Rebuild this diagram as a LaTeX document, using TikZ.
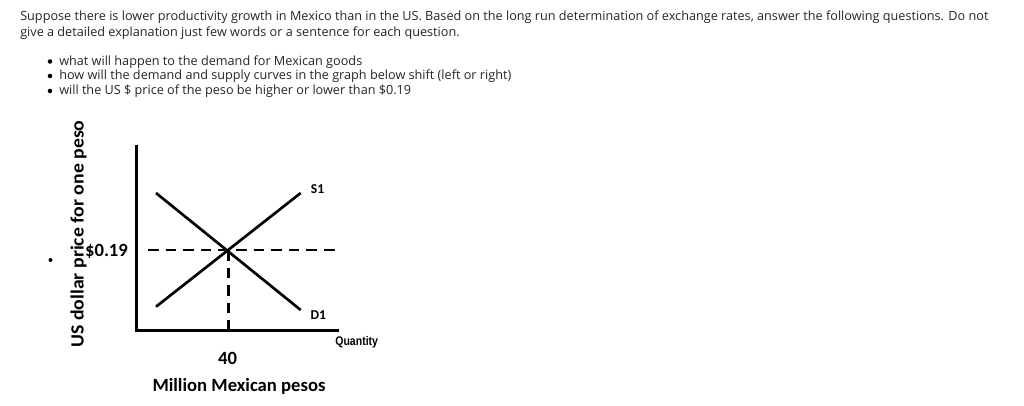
\documentclass[tikz,border=0pt]{standalone}
\usepackage{fontspec}
\setmainfont{Open Sans}
\newfontfamily\gfont{Carlito}
\newfontfamily\qfont[FakeStretch=0.84]{Liberation Sans}
\tikzset{
  axisline/.style={line width=2.3pt},
  curve/.style={line width=2pt},
  dashline/.style={line width=2.2pt, dash pattern=on 8pt off 5.2pt},
  qtext/.style={inner sep=0pt, anchor=base west, font=\fontsize{9.5pt}{11pt}\selectfont, text=black!85},
  glabel/.style={inner sep=0pt, font=\gfont\bfseries\fontsize{14pt}{16pt}\selectfont},
  slabel/.style={inner sep=0pt, font=\gfont\bfseries\fontsize{10.2pt}{12pt}\selectfont},
  blt/.style={circle, fill=black, inner sep=0pt, minimum size=3.4pt},
}
\begin{document}
\begin{tikzpicture}[x=0.75pt,y=-0.75pt]
\useasboundingbox (0,0) rectangle (1024,406);
\fill[white] (0,0) rectangle (1024,406);
% question text
\node[qtext] (l1) at (20,21) {Suppose there is lower productivity growth in Mexico than in the US. Based on the long run determination of exchange rates, answer the following questions. Do not};
\node[qtext] (l2) at (20,37) {give a detailed explanation just few words or a sentence for each question.};
\node[blt] (b1) at (50,61.5) {};
\node[blt] (b2) at (50,76) {};
\node[blt] (b3) at (50,91) {};
\node[qtext] (t1) at (59,65.5) {what will happen to the demand for Mexican goods};
\node[qtext] (t2) at (59,80) {how will the demand and supply curves in the graph below shift (left or right)};
\node[qtext] (t3) at (59,95) {will the US \$ price of the peso be higher or lower than \$0.19};
\node[blt, minimum size=3pt] (b4) at (50.5,260) {};
% graph
\coordinate (O) at (136.7,330.5);
\coordinate (ytop) at (136.7,145);
\coordinate (xend) at (339,330.5);
\coordinate (E) at (228.3,250);
\coordinate (Dtop) at (156,193);
\coordinate (Dbot) at (300.7,310);
\coordinate (Sbot) at (156,306.7);
\coordinate (Stop) at (300.7,193);
\coordinate (hl) at (148,250);
\coordinate (hr) at (339,250);
\coordinate (vb) at (228.3,337);
\draw[axisline] (ytop) -- (O) -- (xend);
\draw[curve] (Dtop) -- (Dbot);
\draw[curve] (Sbot) -- (Stop);
\draw[dashline] (hl) -- (hr);
\draw[dashline] (E) -- (vb);
\node[slabel] (s1) at (317.5,189.5) {S1};
\node[slabel] (d1) at (318.3,315) {D1};
\node[glabel] (p) at (106.5,251) {\$0.19};
\node[glabel] (q40) at (227.5,358.5) {40};
\node[glabel] (mmp) at (239,386) {Million Mexican pesos};
\node[inner sep=0pt, font=\qfont\bfseries\fontsize{9.4pt}{11pt}\selectfont] (qty) at (356.7,342.5) {Quantity};
\node[glabel, rotate=90, anchor=base] (ylab) at (83.5,234) {\scalebox{1.06}[1]{US dollar price for one peso}};
\end{tikzpicture}
\end{document}
